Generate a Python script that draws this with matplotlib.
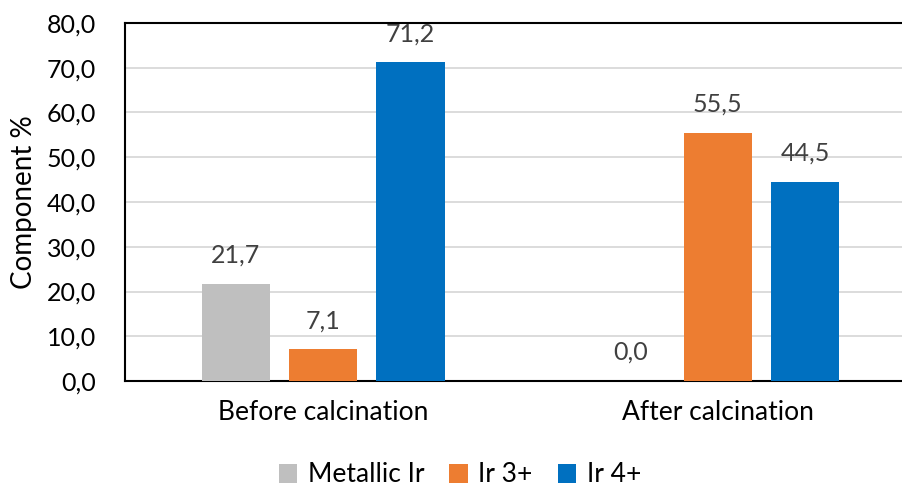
import matplotlib
matplotlib.use("Agg")
import matplotlib.pyplot as plt
import numpy as np
from matplotlib.patches import Patch

plt.rcParams['font.family'] = ['Lato', 'DejaVu Sans']

categories = ["Before calcination", "After calcination"]
series_names = ["Metallic Ir", "Ir 3+", "Ir 4+"]
metallic_ir = [21.7, 0.0]
ir3 = [7.1, 55.5]
ir4 = [71.2, 44.5]
colors = ["#BFBFBF", "#ED7D31", "#0070C0"]
yticks = [0, 10, 20, 30, 40, 50, 60, 70, 80]

fig = plt.figure(figsize=(9.02, 4.88), dpi=100)
W, H = 902, 488
left, right, top, bottom = 125, 916, 23, 381
ax = fig.add_axes([left / W, 1 - bottom / H, (right - left) / W, (bottom - top) / H])

x = np.arange(len(categories))
pitch = 0.221
width = 0.174
series = [metallic_ir, ir3, ir4]
for i, (vals, name, c) in enumerate(zip(series, series_names, colors)):
    pos = x + (i - 1) * pitch
    ax.bar(pos, vals, width=width, color=c, label=name, zorder=3)
    for px, v in zip(pos, vals):
        ax.text(px, v + 3.8, f"{v:.1f}".replace(".", ","), ha="center", va="bottom",
                fontsize=18, color="#404040")

ax.set_xlim(-0.502, 1.502)
ax.set_ylim(0, 80)
ax.set_yticks(yticks)
ax.set_yticklabels([f"{t:.1f}".replace(".", ",") for t in yticks], fontsize=18)
ax.set_xticks(x)
ax.set_xticklabels(categories, fontsize=19)
ax.tick_params(axis="y", length=0, pad=21)
ax.tick_params(axis="x", length=0, pad=14)
ax.yaxis.grid(True, color="#D9D9D9", linewidth=1.3, zorder=0)
ax.set_axisbelow(True)
for s in ["left", "top", "bottom"]:
    ax.spines[s].set_color("black")
    ax.spines[s].set_linewidth(1.5)
ax.spines["right"].set_visible(False)
ax.set_ylabel("Component %", fontsize=20)
ax.yaxis.set_label_coords((37 - left) / (right - left), 0.5)

handles = [Patch(facecolor=c, label=n) for c, n in zip(colors, series_names)]
fig.legend(handles=handles, loc="center", bbox_to_anchor=(460 / W, 1 - 475 / H), ncol=3,
           frameon=False, fontsize=19, handlelength=0.7, handleheight=0.7,
           handletextpad=0.4, columnspacing=0.95, borderpad=0.1)

fig.savefig("out.png", dpi=100)
